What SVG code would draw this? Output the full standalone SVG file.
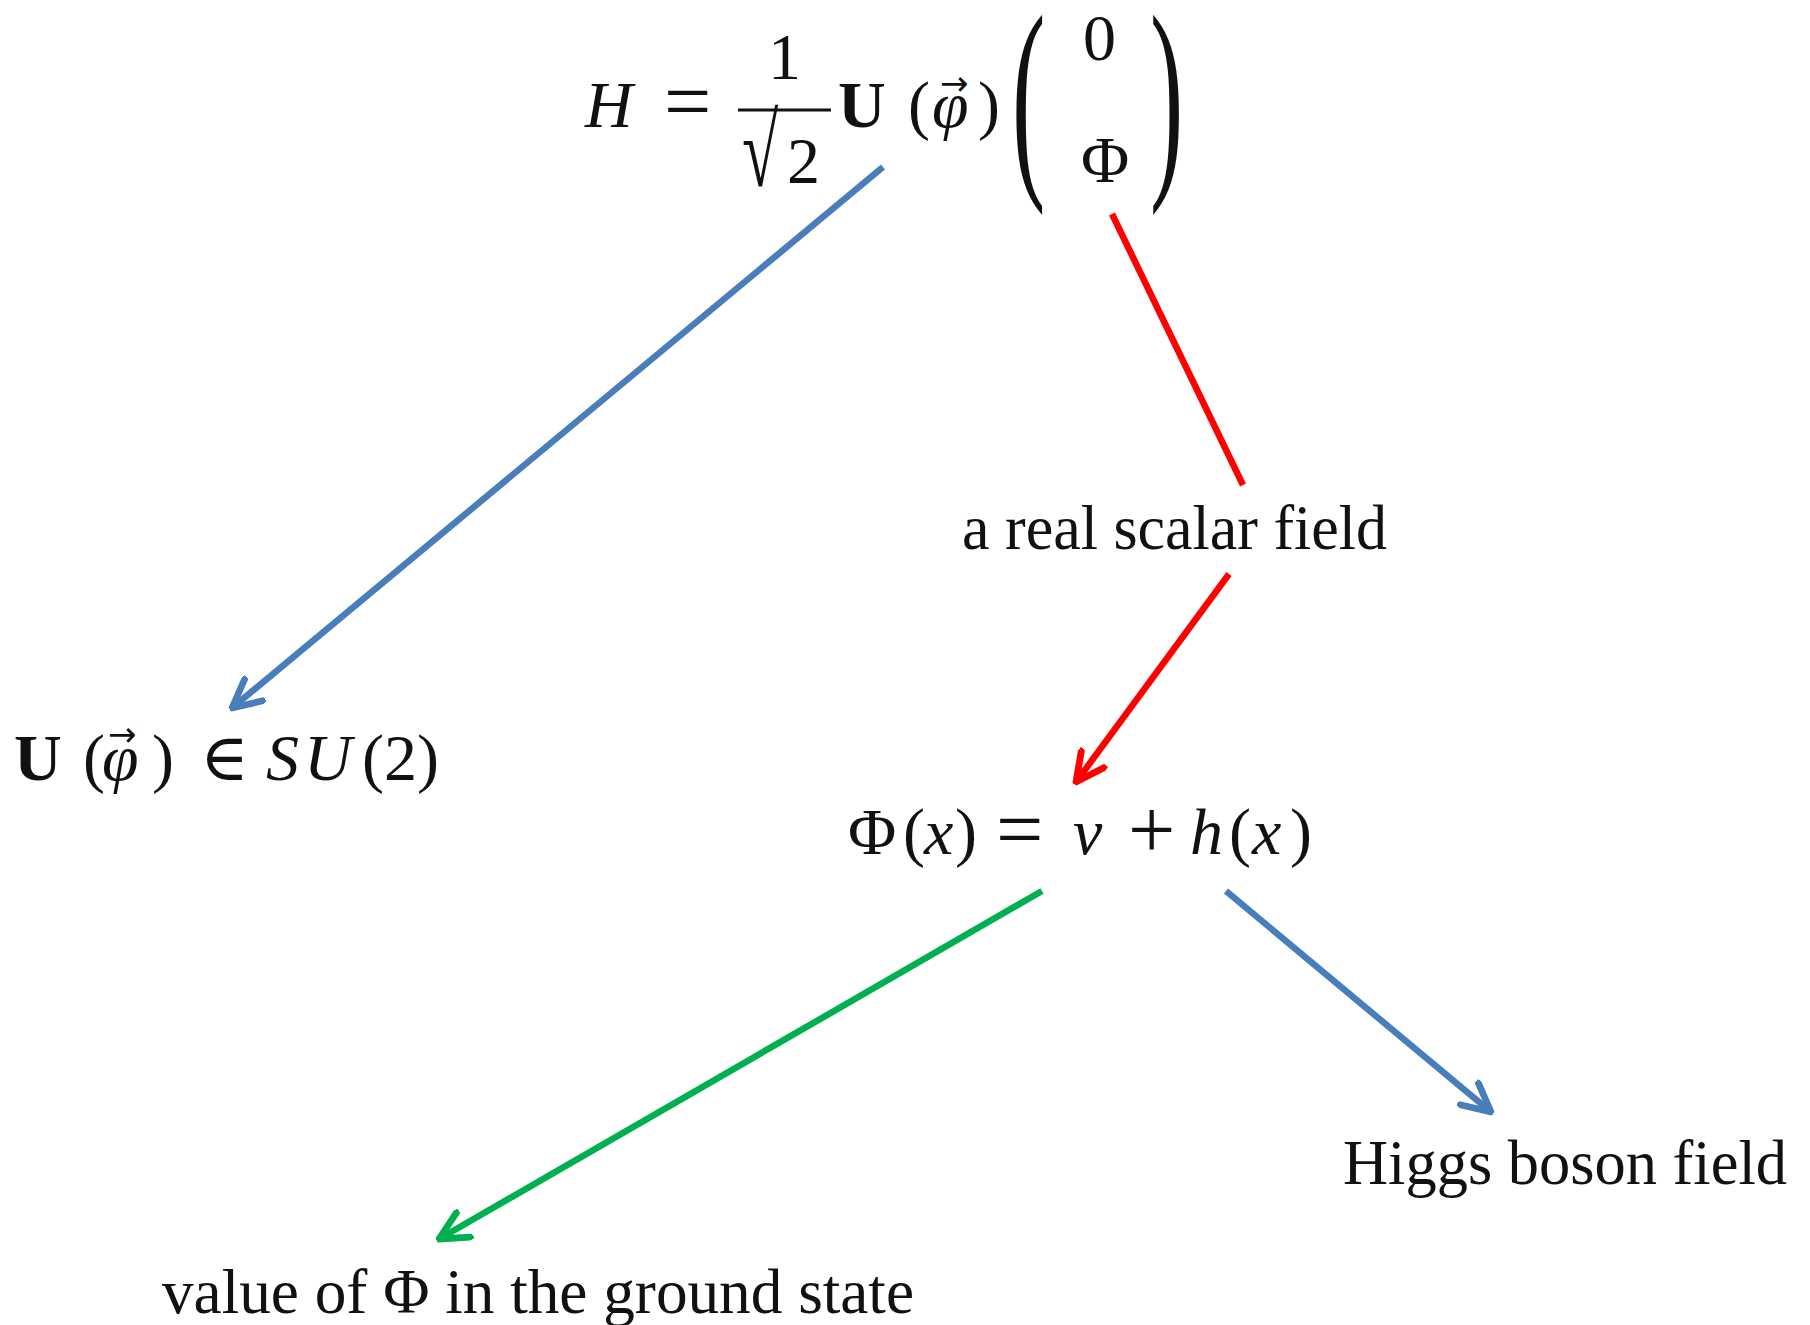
<svg xmlns="http://www.w3.org/2000/svg" width="1810" height="1325" viewBox="0 0 1810 1325">
<style>
text{font-family:"Liberation Serif","DejaVu Serif",serif;fill:#111}
.lbl{font-size:64px}
.m{font-size:66px}
.op{font-size:84px}
.it{font-style:italic}
.bf{font-weight:bold}
.vec{font-family:"DejaVu Sans",sans-serif;font-size:34px}
.c{fill:none;stroke-width:6.5}
</style>
<defs>
<marker id="ab" viewBox="0 0 12 12" refX="11" refY="6" markerWidth="34" markerHeight="34" markerUnits="userSpaceOnUse" orient="auto"><path d="M1,1 L11,6 L1,11" fill="none" stroke="#4a7ebb" stroke-width="2.4" stroke-linecap="round" stroke-linejoin="round"/></marker>
<marker id="ar" viewBox="0 0 12 12" refX="11" refY="6" markerWidth="34" markerHeight="34" markerUnits="userSpaceOnUse" orient="auto"><path d="M1,1 L11,6 L1,11" fill="none" stroke="#ff0000" stroke-width="2.4" stroke-linecap="round" stroke-linejoin="round"/></marker>
<marker id="ag" viewBox="0 0 12 12" refX="11" refY="6" markerWidth="34" markerHeight="34" markerUnits="userSpaceOnUse" orient="auto"><path d="M1,1 L11,6 L1,11" fill="none" stroke="#00b050" stroke-width="2.4" stroke-linecap="round" stroke-linejoin="round"/></marker>
</defs>
<rect width="1810" height="1325" fill="#fff"/>

<g id="connectors">
<line class="c" x1="883" y1="167" x2="232" y2="708" stroke="#4a7ebb" marker-end="url(#ab)"/>
<line class="c" x1="1112" y1="214" x2="1243" y2="485" stroke="#ff0000"/>
<line class="c" x1="1229" y1="574" x2="1076" y2="782" stroke="#ff0000" marker-end="url(#ar)"/>
<line class="c" x1="1042" y1="891" x2="439" y2="1239" stroke="#00b050" marker-end="url(#ag)"/>
<line class="c" x1="1226" y1="891" x2="1491" y2="1112" stroke="#4a7ebb" marker-end="url(#ab)"/>
</g>

<g id="node-H">
<text class="m it" x="585" y="127">H</text>
<text class="op" x="664" y="130">=</text>
<text class="m" x="768" y="79">1</text>
<line x1="738" y1="110" x2="831" y2="110" stroke="#111" stroke-width="3"/>
<text class="m" x="0" y="0" transform="translate(742,186) scale(1,1.55)">√</text>
<text class="m" x="787" y="183">2</text>
<text class="m bf" x="838" y="127">U</text>
<text class="m" x="908" y="127">(</text>
<text class="m it" x="932" y="127">φ</text>
<text class="vec" x="940" y="95">→</text>
<text class="m" x="978" y="127">)</text>
<text x="0" y="0" font-size="200" transform="translate(1012,168) scale(0.5,1.1)">(</text>
<text class="m" x="1083" y="60">0</text>
<text class="m" x="1081" y="182">Φ</text>
<text x="0" y="0" font-size="200" transform="translate(1150,168) scale(0.5,1.1)">)</text>
</g>

<g id="node-U">
<text class="m" y="780"><tspan class="bf" x="14">U</tspan><tspan x="83">(</tspan><tspan class="it" x="102">φ</tspan><tspan x="152">)</tspan></text>
<text class="vec" x="108" y="746">→</text>
<text class="m" x="200" y="780">∈</text>
<text class="m" y="780"><tspan class="it" x="266">S</tspan><tspan class="it" x="304">U</tspan><tspan x="362">(2)</tspan></text>
</g>

<g id="node-scalar">
<text class="lbl" x="962" y="549" textLength="425" lengthAdjust="spacingAndGlyphs">a real scalar field</text>
</g>

<g id="node-Phi">
<text class="m" y="854"><tspan x="848">Φ</tspan><tspan x="903">(</tspan><tspan class="it" x="924">x</tspan><tspan x="955">)</tspan></text>
<text class="op" x="996" y="858">=</text>
<text class="m it" x="1073" y="854">v</text>
<text class="op" x="1128" y="858">+</text>
<text class="m" y="854"><tspan class="it" x="1190">h</tspan><tspan x="1229">(</tspan><tspan class="it" x="1252">x</tspan><tspan x="1290">)</tspan></text>
</g>

<g id="node-higgs">
<text class="lbl" x="1343" y="1184" textLength="444" lengthAdjust="spacingAndGlyphs">Higgs boson field</text>
</g>

<g id="node-ground">
<text class="lbl" x="162" y="1313" font-size="60" textLength="752" lengthAdjust="spacingAndGlyphs">value of Φ in the ground state</text>
</g>
</svg>
